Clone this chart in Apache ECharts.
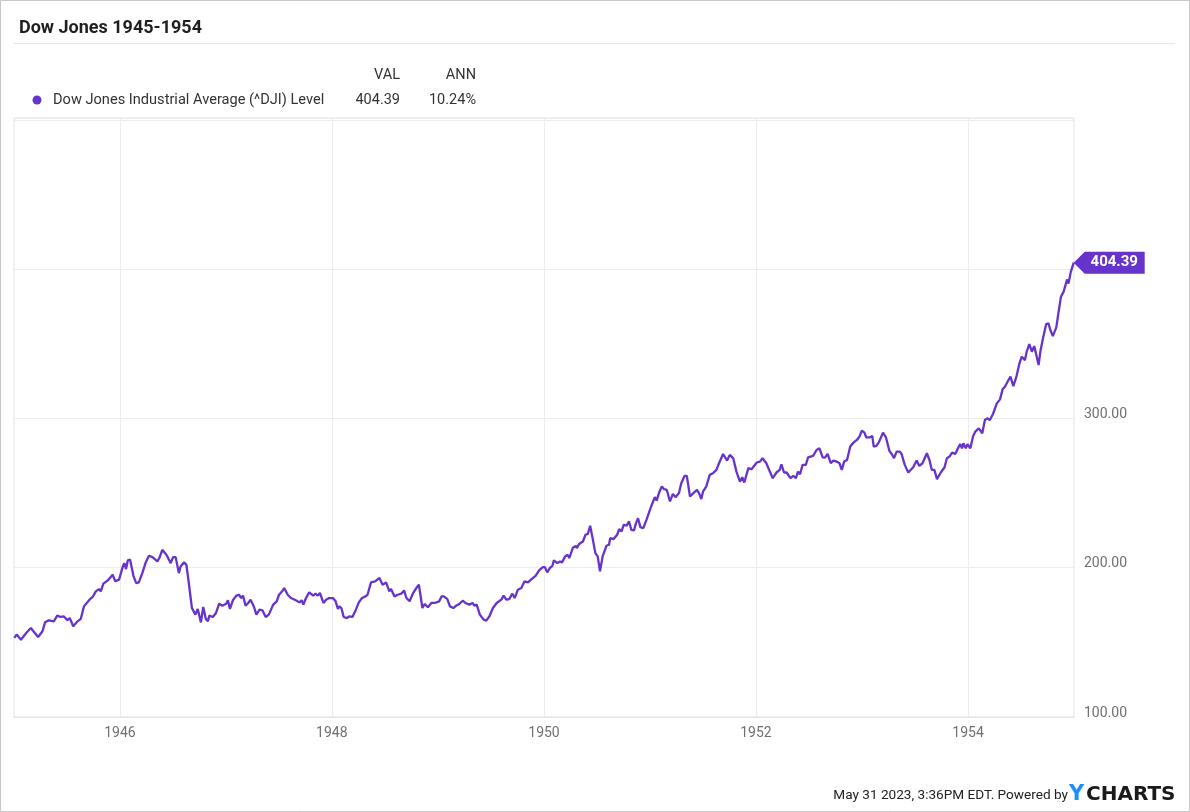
<!DOCTYPE html>
<html>
<head>
<meta charset="utf-8">
<script src="https://cdn.jsdelivr.net/npm/echarts@6/dist/echarts.min.js"></script>
<style>
html,body{margin:0;padding:0;background:#fff;}
#chart{width:1190px;height:812px;}
</style>
</head>
<body>
<div id="chart"></div>
<script>
const title = 'Dow Jones 1945-1954';
const seriesName = 'Dow Jones Industrial Average (^DJI) Level';
const legendCols = ['VAL', 'ANN'];
const legendVals = ['404.39', '10.24%'];
const footer = 'May 31 2023, 3:36PM EDT. Powered by';
const yearTicks = ['1946-01-01', '1948-01-01', '1950-01-01', '1952-01-01', '1954-01-01'];
const xRange = ['1945-01-01', '1955-01-01'];
const yTicks = [100, 200, 300, 400];

const dates = [
'1945-01-02','1945-01-10','1945-01-25','1945-02-12','1945-02-28','1945-03-05','1945-03-25','1945-04-09','1945-04-18','1945-05-01',
'1945-05-18','1945-05-30','1945-06-11','1945-06-22','1945-07-04','1945-07-12','1945-07-24','1945-08-08','1945-08-19','1945-08-30',
'1945-09-18','1945-09-29','1945-10-10','1945-10-21','1945-10-27','1945-11-05','1945-11-20','1945-11-25','1945-12-07','1945-12-16',
'1945-12-29','1946-01-11','1946-01-16','1946-01-22','1946-01-28','1946-02-05','1946-02-17','1946-02-26','1946-03-07','1946-03-19',
'1946-03-30','1946-04-11','1946-04-23','1946-05-10','1946-05-18','1946-05-27','1946-06-10','1946-06-25','1946-07-03','1946-07-12',
'1946-07-23','1946-07-29','1946-08-10','1946-08-18','1946-08-27','1946-09-06','1946-09-18','1946-09-26','1946-10-01','1946-10-07',
'1946-10-15','1946-10-24','1946-10-31','1946-11-05','1946-11-17','1946-11-28','1946-12-09','1946-12-20','1947-01-02','1947-01-08',
'1947-01-15','1947-01-25','1947-02-06','1947-02-15','1947-02-23','1947-03-01','1947-03-10','1947-03-19','1947-03-27','1947-04-08',
'1947-04-16','1947-04-27','1947-05-07','1947-05-18','1947-05-29','1947-06-13','1947-06-25','1947-07-03','1947-07-14','1947-07-21',
'1947-08-02','1947-08-13','1947-08-30','1947-09-11','1947-09-19','1947-09-25','1947-10-04','1947-10-15','1947-10-21','1947-10-29',
'1947-11-06','1947-11-14','1947-11-21','1947-12-03','1947-12-12','1947-12-23','1948-01-05','1948-01-14','1948-01-22','1948-01-27',
'1948-02-03','1948-02-11','1948-02-22','1948-03-01','1948-03-12','1948-03-24','1948-04-03','1948-04-14','1948-04-26','1948-05-03',
'1948-05-15','1948-05-29','1948-06-13','1948-06-24','1948-07-06','1948-07-17','1948-07-23','1948-08-04','1948-08-15','1948-08-27',
'1948-09-06','1948-09-14','1948-09-25','1948-10-06','1948-10-18','1948-10-27','1948-11-08','1948-11-16','1948-11-27','1948-12-09',
'1948-12-20','1949-01-05','1949-01-13','1949-01-21','1949-02-02','1949-02-11','1949-02-23','1949-03-04','1949-03-15','1949-03-27',
'1949-04-05','1949-04-19','1949-04-30','1949-05-06','1949-05-14','1949-05-25','1949-06-07','1949-06-16','1949-06-27','1949-07-09',
'1949-07-22','1949-08-07','1949-08-15','1949-08-24','1949-09-03','1949-09-14','1949-09-22','1949-10-03','1949-10-15','1949-10-26',
'1949-11-07','1949-11-19','1949-12-03','1949-12-15','1949-12-28','1950-01-04','1950-01-12','1950-01-21','1950-01-30','1950-02-04',
'1950-02-16','1950-02-25','1950-03-04','1950-03-09','1950-03-15','1950-03-23','1950-03-29','1950-04-10','1950-04-20','1950-04-24',
'1950-05-03','1950-05-15','1950-05-24','1950-06-01','1950-06-09','1950-06-18','1950-06-27','1950-07-05','1950-07-13','1950-07-22',
'1950-08-04','1950-08-13','1950-08-17','1950-08-29','1950-09-10','1950-09-17','1950-09-25','1950-10-03','1950-10-12','1950-10-21',
'1950-10-29','1950-11-07','1950-11-14','1950-11-21','1950-11-29','1950-12-09','1950-12-20','1951-01-03','1951-01-12','1951-01-18',
'1951-01-24','1951-02-03','1951-02-11','1951-02-19','1951-02-28','1951-03-11','1951-03-21','1951-03-30','1951-04-11','1951-04-19',
'1951-04-30','1951-05-08','1951-05-19','1951-05-28','1951-06-12','1951-06-19','1951-06-27','1951-07-03','1951-07-14','1951-07-26',
'1951-08-06','1951-08-18','1951-08-27','1951-09-10','1951-09-24','1951-10-03','1951-10-15','1951-10-26','1951-11-07','1951-11-15',
'1951-11-22','1951-12-06','1951-12-17','1952-01-04','1952-01-15','1952-01-24','1952-02-06','1952-02-28','1952-03-12','1952-03-23',
'1952-03-29','1952-04-07','1952-04-16','1952-04-29','1952-05-09','1952-05-18','1952-05-25','1952-06-01','1952-06-10','1952-06-21',
'1952-06-29','1952-07-16','1952-07-28','1952-08-07','1952-08-18','1952-08-26','1952-09-04','1952-09-15','1952-09-24','1952-10-08',
'1952-10-15','1952-10-23','1952-10-31','1952-11-10','1952-11-21','1952-12-02','1952-12-14','1952-12-23','1952-12-31','1953-01-09',
'1953-01-15','1953-01-29','1953-02-05','1953-02-10','1953-02-19','1953-02-27','1953-03-05','1953-03-14','1953-03-24','1953-04-05',
'1953-04-13','1953-04-21','1953-04-30','1953-05-11','1953-05-17','1953-05-28','1953-06-09','1953-06-26','1953-07-08','1953-07-17',
'1953-07-28','1953-08-12','1953-08-21','1953-08-29','1953-09-07','1953-09-16','1953-09-29','1953-10-12','1953-10-20','1953-10-29',
'1953-11-07','1953-11-18','1953-11-29','1953-12-05','1953-12-11','1953-12-16','1953-12-24','1953-12-30','1954-01-09','1954-01-18',
'1954-01-26','1954-02-07','1954-02-19','1954-02-28','1954-03-08','1954-03-17','1954-03-28','1954-04-10','1954-04-21','1954-04-30',
'1954-05-08','1954-05-19','1954-05-27','1954-06-06','1954-06-17','1954-06-27','1954-07-05','1954-07-16','1954-07-22','1954-07-31',
'1954-08-09','1954-08-17','1954-08-23','1954-09-01','1954-09-07','1954-09-16','1954-09-27','1954-10-05','1954-10-11','1954-10-20',
'1954-11-01','1954-11-09','1954-11-17','1954-11-26','1954-12-02','1954-12-08','1954-12-13','1954-12-21','1954-12-31'
];

const values = [
153.0,155.2,151.8,156.3,159.6,160.8,153.6,157.4,163.4,164.8,
164.1,167.9,167.0,167.4,164.8,166.3,160.8,164.1,165.7,174.1,
178.6,180.4,184.2,185.7,184.2,189.3,191.5,190.2,195.3,190.9,
192.0,200.9,203.1,199.1,204.9,205.4,194.2,189.7,190.2,196.4,
203.1,208.0,207.1,204.2,207.1,212.0,208.7,203.1,207.1,207.1,
196.4,200.9,203.6,202.0,188.6,173.0,168.6,172.4,171.9,163.4,
173.7,165.7,164.1,167.9,167.0,169.7,175.9,174.6,175.9,178.2,
172.4,178.2,181.3,181.9,179.7,181.3,174.6,176.4,178.6,173.7,
168.6,171.9,171.5,167.0,168.6,175.3,177.5,181.9,184.2,186.4,
181.9,179.7,178.2,176.8,178.2,175.3,179.7,183.5,184.2,181.3,
182.6,181.3,183.1,176.4,178.6,179.7,179.7,177.5,172.4,174.1,
173.0,167.0,166.3,167.4,167.0,171.9,176.8,179.7,180.8,181.9,
190.2,190.9,193.1,188.6,190.2,184.2,185.7,180.8,181.9,182.6,
184.8,179.7,177.5,182.6,186.4,188.6,173.0,175.7,173.5,176.4,
176.4,177.5,180.8,180.8,179.0,174.1,173.0,174.6,175.7,177.9,
176.4,175.3,176.4,174.6,175.3,168.6,165.2,164.6,167.5,173.0,
176.4,178.6,181.3,178.6,179.0,182.6,179.7,185.3,186.4,190.9,
190.2,192.4,194.6,198.2,200.4,200.4,196.9,199.8,201.3,204.9,
203.1,204.2,203.6,202.7,207.6,208.7,206.5,213.2,214.7,213.2,
216.1,217.6,222.1,222.7,228.1,219.2,209.8,207.6,197.6,207.6,
214.7,215.4,219.8,219.2,222.1,225.9,224.3,228.8,228.1,231.0,
225.4,225.0,229.9,233.2,227.2,226.5,232.1,239.9,244.4,247.3,
245.0,251.1,254.4,252.6,252.2,244.4,249.5,247.3,250.0,256.6,
261.5,261.5,247.7,249.5,252.2,250.0,246.0,251.1,254.4,262.2,
263.3,265.6,270.0,276.2,271.8,275.6,273.3,264.4,257.7,260.6,
257.1,266.7,266.0,270.5,271.1,273.3,270.0,260.0,263.8,265.6,
269.3,263.8,263.8,260.0,261.5,260.0,264.4,262.6,268.9,268.9,
274.0,274.9,278.9,280.0,274.0,273.8,276.2,270.0,271.8,270.9,
270.0,265.6,271.1,272.2,281.2,283.8,285.6,287.9,291.9,290.5,
287.4,287.4,288.3,281.2,281.6,283.8,283.4,290.5,287.4,278.3,
276.2,273.4,277.8,277.8,276.2,268.9,263.8,267.3,271.8,268.2,
270.0,276.7,272.2,265.6,265.6,259.3,263.8,267.3,273.4,274.5,
277.1,276.2,280.7,282.9,280.0,283.4,280.0,282.7,280.0,287.9,
291.2,293.4,290.1,299.0,300.1,299.0,303.0,310.1,312.8,319.5,
321.3,325.3,328.0,321.7,328.4,336.9,341.4,339.1,344.7,349.8,
344.7,348.5,343.6,335.8,344.7,353.6,363.2,363.7,359.6,355.2,
361.0,371.5,381.5,384.8,384.2,393.1,390.4,398.2,404.39
];

const purple = '#6633cc';
const toTs = s => { const p = s.split('-').map(Number); return Date.UTC(p[0], p[1] - 1, p[2]); };
const lastIdx = values.length - 1;
const seriesData = dates.map((d, i) => [toTs(d), values[i]]);
const tickTs = yearTicks.map(toTs);

const chart = echarts.init(document.getElementById('chart'), null, {renderer: 'canvas'});
const font = 'Roboto';

chart.setOption({
  animation: false,
  backgroundColor: '#ffffff',
  textStyle: {fontFamily: font},
  title: {
    text: title,
    left: 14, top: 14,
    textStyle: {fontFamily: font, fontSize: 18, fontWeight: 'bold', color: '#1f1f1f'}
  },
  grid: {
    left: 14, right: 116, top: 118, bottom: 95,
    show: true, borderColor: '#e3e3e3', borderWidth: 1, backgroundColor: 'transparent'
  },
  xAxis: {
    type: 'value',
    min: toTs(xRange[0]),
    max: toTs(xRange[1]),
    axisLine: {show: true, lineStyle: {color: '#e3e3e3'}},
    axisTick: {show: false, customValues: tickTs},
    axisLabel: {
      customValues: tickTs,
      color: '#707070', fontSize: 14, fontFamily: font, margin: 9,
      formatter: v => String(new Date(v).getUTCFullYear())
    },
    splitLine: {show: true, lineStyle: {color: '#ececec', width: 1}}
  },
  yAxis: {
    type: 'value',
    position: 'right',
    min: 100, max: 501.3, interval: 100,
    axisLine: {show: false},
    axisTick: {show: false},
    axisLabel: {
      color: '#707070', fontSize: 14, fontFamily: font, margin: 10,
      verticalAlign: 'bottom', lineHeight: 8,
      formatter: v => (yTicks.indexOf(v) >= 0 ? v.toFixed(2) : '')
    },
    splitLine: {show: true, lineStyle: {color: '#ececec', width: 1}}
  },
  series: [{
    name: seriesName,
    type: 'line',
    data: seriesData,
    showSymbol: false,
    symbol: 'none',
    lineStyle: {color: purple, width: 2.3},
    itemStyle: {color: purple},
    z: 3,
    markPoint: {
      symbol: 'path://M0,11 L11,0 L71,0 L71,22 L11,22 Z',
      symbolSize: [71, 22],
      symbolKeepAspect: false,
      symbolOffset: [35.5, 0],
      itemStyle: {color: purple},
      label: {
        show: true, color: '#ffffff', fontSize: 15, fontWeight: 'bold', fontFamily: font,
        offset: [5, 0],
        formatter: p => p.value.toFixed(2)
      },
      data: [{coord: seriesData[lastIdx], value: values[lastIdx]}],
      z: 10
    }
  }],
  graphic: [
    {type: 'rect', shape: {x: 0.5, y: 0.5, width: 1189, height: 811}, style: {fill: 'none', stroke: '#c8c8c8', lineWidth: 1}, silent: true},
    {type: 'line', shape: {x1: 14, y1: 43.5, x2: 1175, y2: 43.5}, style: {stroke: '#e6e6e6', lineWidth: 1}, silent: true},
    {type: 'text', style: {x: 400, y: 75, text: legendCols[0], textAlign: 'right', textVerticalAlign: 'middle', fontSize: 14.5, fontFamily: font, fill: '#333'}},
    {type: 'text', style: {x: 476, y: 75, text: legendCols[1], textAlign: 'right', textVerticalAlign: 'middle', fontSize: 14.5, fontFamily: font, fill: '#333'}},
    {type: 'circle', shape: {cx: 37, cy: 100, r: 4.5}, style: {fill: purple}},
    {type: 'text', style: {x: 53, y: 100, text: seriesName, textAlign: 'left', textVerticalAlign: 'middle', fontSize: 14.6, fontFamily: font, fill: '#333'}},
    {type: 'text', style: {x: 400, y: 100, text: legendVals[0], textAlign: 'right', textVerticalAlign: 'middle', fontSize: 14.5, fontFamily: font, fill: '#333'}},
    {type: 'text', style: {x: 476, y: 100, text: legendVals[1], textAlign: 'right', textVerticalAlign: 'middle', fontSize: 14.5, fontFamily: font, fill: '#333'}},
    {type: 'text', style: {x: 1068, y: 796, text: footer, textAlign: 'right', textVerticalAlign: 'middle', fontSize: 13.6, fontFamily: font, fill: '#222'}},
    {type: 'text', style: {x: 1069, y: 795, text: 'Y', textAlign: 'left', textVerticalAlign: 'middle', fontSize: 21, fontWeight: 'bold', fontFamily: 'DejaVu Sans', fill: '#1e8fff'}},
    {type: 'text', style: {x: 1086, y: 795, text: 'CHARTS', textAlign: 'left', textVerticalAlign: 'middle', fontSize: 20, fontWeight: 'bold', fontFamily: 'DejaVu Sans', fill: '#1a1a1a'}}
  ]
});
</script>
</body>
</html>
